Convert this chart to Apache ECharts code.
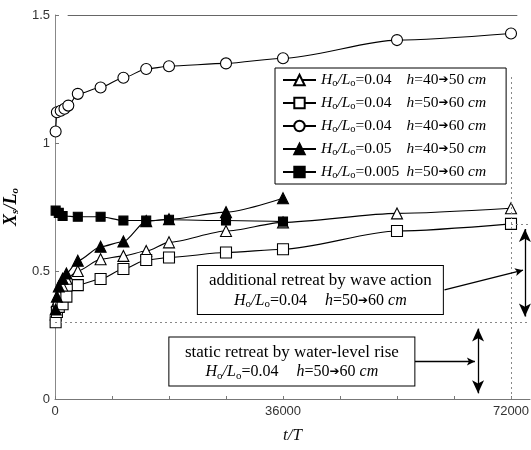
<!DOCTYPE html>
<html>
<head>
<meta charset="UTF-8">
<title>Xs/Lo</title>
<script src="https://cdn.jsdelivr.net/npm/echarts@6/dist/echarts.min.js"></script>
<style>
    html, body { margin: 0; padding: 0; background: #fff; }
    #main { width: 531px; height: 450px; }
</style>
</head>
<body>
<div id="main"></div>
<script type="text/javascript">
    // t/T and Xs/Lo
    var triOpenT = [100, 300, 600, 1200, 1800, 3600, 7200, 10800, 14400, 18000, 27000, 36000, 54000, 72000];
    var triOpenV = [0.33, 0.38, 0.41, 0.44, 0.47, 0.50, 0.546, 0.559, 0.578, 0.612, 0.656, 0.69, 0.725, 0.745];
    var sqOpenT = [100, 300, 600, 1200, 1800, 3600, 7200, 10800, 14400, 18000, 27000, 36000, 54000, 72000];
    var sqOpenV = [0.30, 0.34, 0.36, 0.37, 0.40, 0.445, 0.469, 0.508, 0.543, 0.553, 0.572, 0.585, 0.656, 0.684];
    var cirT = [100, 300, 900, 1500, 2100, 3600, 7200, 10800, 14400, 18000, 27000, 36000, 54000, 72000];
    var cirV = [1.045, 1.12, 1.126, 1.134, 1.146, 1.192, 1.217, 1.255, 1.289, 1.30, 1.311, 1.331, 1.402, 1.428];
    var triFillT = [100, 300, 600, 1200, 1800, 3600, 7200, 10800, 14400, 18000, 27000, 36000];
    var triFillV = [0.35, 0.40, 0.44, 0.47, 0.49, 0.54, 0.595, 0.615, 0.695, 0.702, 0.73, 0.784];
    var sqFillT = [100, 600, 1200, 3600, 7200, 10800, 14400, 18000, 27000, 36000];
    var sqFillV = [0.736, 0.727, 0.715, 0.712, 0.712, 0.697, 0.697, 0.70, 0.697, 0.693];

    // legend text parts
    var steepness = ['0.04', '0.04', '0.04', '0.05', '0.005'];
    var depthFrom = ['40', '50', '40', '40', '50'];
    var depthTo = ['50', '60', '60', '50', '60'];

    // axis ticks
    var xLabelValues = [0, 36000, 72000];
    var xTickValues = [0, 9000, 18000, 27000, 36000, 45000, 54000, 63000, 72000];

    var seriesNames = steepness.map(function (s, i) {
        return 'Ho/Lo=' + s + ' h=' + depthFrom[i] + '→' + depthTo[i] + ' cm';
    });

    var serif = 'Liberation Serif';
    var sans = 'Liberation Sans';

    function zip(ts, vs) {
        return ts.map(function (t, i) { return [t, vs[i]]; });
    }

    function makeSeries(idx, ts, vs, symbol, filled, size) {
        return {
            name: seriesNames[idx],
            type: 'line',
            data: zip(ts, vs),
            symbol: symbol,
            symbolSize: size,
            smooth: 0.25,
            smoothMonotone: 'x',
            lineStyle: {color: '#000', width: 1.1},
            itemStyle: {color: filled ? '#000' : '#fff', borderColor: '#000', borderWidth: 1.1},
            emphasis: {disabled: true}
        };
    }

    // rich styles for the annotation boxes
    var boxRich = {
        t: {fontFamily: serif, fontSize: 17, lineHeight: 20, color: '#000', align: 'center'},
        i: {fontFamily: serif, fontSize: 16, fontStyle: 'italic', lineHeight: 19, color: '#000', align: 'center'},
        s: {fontFamily: serif, fontSize: 11, lineHeight: 14, verticalAlign: 'bottom', color: '#000', align: 'center'},
        v: {fontFamily: serif, fontSize: 16, lineHeight: 19, padding: [0, 18, 0, 0], color: '#000', align: 'center'},
        n: {fontFamily: serif, fontSize: 16, lineHeight: 19, color: '#000', align: 'center'},
        a: {fontFamily: 'DejaVu Sans', fontSize: 12, lineHeight: 19, color: '#000', align: 'center'}
    };
    var boxLine2 = '{i|H}{s|o}{i|/L}{s|o}{v|=0.04}{i|h}{n|=50}{a|➔}{n|60 }{i|cm}';

    var boxLabel = {
        show: true,
        position: 'inside',
        align: 'center',
        verticalAlign: 'middle',
        backgroundColor: '#fff',
        borderColor: '#000',
        borderWidth: 1,
        padding: [5, 4],
        width: 237,
        height: 38,
        rich: boxRich
    };

    var dotted = {color: '#888', width: 1, type: [2, 3]};
    var arrowLine = {color: '#000', width: 1.3, type: 'solid'};

    var sqOpenSeries = makeSeries(1, sqOpenT, sqOpenV, 'rect', false, 11);
    sqOpenSeries.markLine = {
        silent: true,
        animation: false,
        symbol: 'none',
        label: {show: false},
        data: [
            [{coord: [0, 0.30], lineStyle: dotted}, {coord: [75000, 0.30]}],
            [{coord: [72000, 0.684], lineStyle: dotted}, {coord: [75000, 0.684]}],
            [{coord: [72000, 0], lineStyle: dotted}, {coord: [72000, 1.26]}],
            [{coord: [2000, 1.5], lineStyle: {color: '#666', width: 1, type: 'solid'}}, {coord: [73000, 1.5]}],
            [{coord: [74200, 0.664], symbol: 'arrow', symbolSize: [9, 13], lineStyle: arrowLine},
                {coord: [74200, 0.322], symbol: 'arrow', symbolSize: [9, 13]}],
            [{coord: [66800, 0.275], symbol: 'arrow', symbolSize: [9, 13], lineStyle: arrowLine},
                {coord: [66800, 0.022], symbol: 'arrow', symbolSize: [9, 13]}],
            [{coord: [61500, 0.426], symbol: 'none', lineStyle: arrowLine},
                {coord: [73900, 0.503], symbol: 'arrow', symbolSize: [6, 8]}],
            [{coord: [56400, 0.146], symbol: 'none', lineStyle: arrowLine},
                {coord: [66300, 0.146], symbol: 'arrow', symbolSize: [6, 8]}]
        ]
    };
    sqOpenSeries.markPoint = {
        silent: true,
        animation: false,
        symbol: 'rect',
        symbolSize: 1,
        itemStyle: {color: 'rgba(0,0,0,0)'},
        data: [
            {coord: [41900, 0.426], label: Object.assign({}, boxLabel, {
                formatter: '{t|additional retreat by wave action}\n' + boxLine2
            })},
            {coord: [37400, 0.146], label: Object.assign({}, boxLabel, {
                formatter: '{t|static retreat by water-level rise}\n' + boxLine2
            })}
        ]
    };

    var myChart = echarts.init(document.getElementById('main'));
    myChart.setOption({
        animation: false,
        backgroundColor: '#fff',
        grid: {left: 55, right: 1, top: 15, bottom: 51, containLabel: false, outerBoundsMode: 'none'},
        legend: {
            orient: 'vertical',
            left: 275,
            top: 68,
            itemWidth: 33,
            itemHeight: 13,
            itemGap: 6,
            padding: [4, 20, 3, 7],
            borderColor: '#000',
            borderWidth: 1,
            backgroundColor: '#fff',
            selectedMode: false,
            data: seriesNames,
            formatter: function (name) {
                var i = seriesNames.indexOf(name);
                return '{i|H}{s|o}{i|/L}{s|o}{v|=' + steepness[i] + '}{i|h}{n|=' + depthFrom[i] + '}{a|➔}{n|' +
                    depthTo[i] + ' }{i|cm}';
            },
            textStyle: {
                rich: {
                    i: {fontFamily: serif, fontSize: 15.5, fontStyle: 'italic', lineHeight: 18, color: '#000'},
                    s: {fontFamily: serif, fontSize: 10.5, lineHeight: 13, verticalAlign: 'bottom', color: '#000'},
                    v: {fontFamily: serif, fontSize: 15.5, lineHeight: 18, width: 51, color: '#000'},
                    n: {fontFamily: serif, fontSize: 15.5, lineHeight: 18, color: '#000'},
                    a: {fontFamily: 'DejaVu Sans', fontSize: 12, lineHeight: 18, color: '#000'}
                }
            }
        },
        xAxis: {
            type: 'value',
            min: 0,
            max: 75000,
            name: 't/T',
            nameLocation: 'middle',
            nameGap: 28,
            nameTextStyle: {fontFamily: serif, fontStyle: 'italic', fontSize: 17, color: '#111'},
            axisLine: {show: true, lineStyle: {color: '#777', width: 1}},
            axisTick: {show: true, inside: true, length: 3, customValues: xTickValues, lineStyle: {color: '#777'}},
            axisLabel: {
                customValues: xLabelValues,
                formatter: function (v) { return String(v); },
                fontFamily: sans, fontSize: 13, color: '#333', margin: 6
            },
            splitLine: {show: false}
        },
        yAxis: {
            type: 'value',
            min: 0,
            max: 1.5,
            interval: 0.5,
            name: '{b|X}{bs|s}{b|/L}{bs|o}',
            nameLocation: 'middle',
            nameGap: 34,
            nameTextStyle: {
                rich: {
                    b: {fontFamily: serif, fontStyle: 'italic', fontWeight: 'bold', fontSize: 18, lineHeight: 20, color: '#000'},
                    bs: {fontFamily: serif, fontStyle: 'italic', fontWeight: 'bold', fontSize: 11, lineHeight: 14, verticalAlign: 'bottom', color: '#000'}
                }
            },
            axisLine: {show: true, lineStyle: {color: '#888', width: 1}},
            axisTick: {show: true, inside: true, length: 4, lineStyle: {color: '#777'}},
            axisLabel: {fontFamily: sans, fontSize: 13, color: '#333', margin: 5},
            splitLine: {show: false}
        },
        series: [
            makeSeries(0, triOpenT, triOpenV, 'triangle', false, 11),
            sqOpenSeries,
            makeSeries(2, cirT, cirV, 'circle', false, 11),
            makeSeries(3, triFillT, triFillV, 'triangle', true, 11),
            makeSeries(4, sqFillT, sqFillV, 'rect', true, 9)
        ]
    });
</script>
</body>
</html>
